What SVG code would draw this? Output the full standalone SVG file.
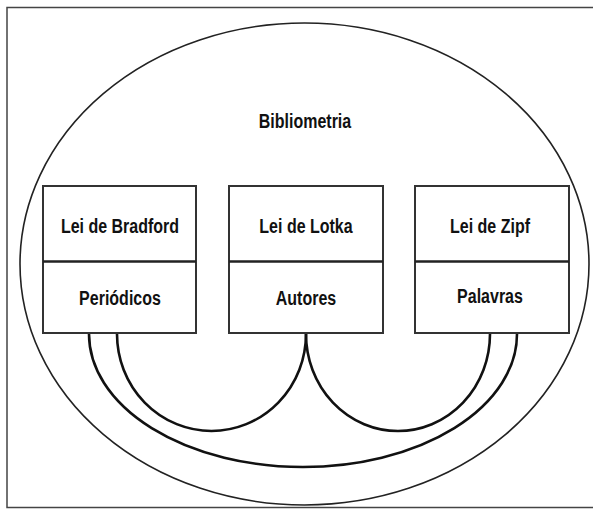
<svg xmlns="http://www.w3.org/2000/svg" width="593" height="510" viewBox="0 0 593 510">
<style>
.box{fill:#fff;stroke:#333;stroke-width:2}
.div{stroke:#222;stroke-width:2.5}
.arc{fill:none;stroke:#111;stroke-width:2.6}
.t{font-family:"Liberation Sans",Arial,sans-serif;font-weight:bold;font-size:16px;fill:#111;text-anchor:middle}
</style>
<rect x="0" y="0" width="593" height="510" fill="#fff"/>
<rect x="7" y="7.5" width="600" height="500" fill="none" stroke="#444" stroke-width="1.5"/>
<g id="bibliometria">
<ellipse cx="304.5" cy="264" rx="284.5" ry="241" fill="none" stroke="#222" stroke-width="1.6"/>
<text class="t" transform="translate(305,128) scale(1,1.3)">Bibliometria</text>
</g>
<g id="connectors">
<path class="arc" d="M89,334 A214,133 0 0 0 517,334"/>
<path class="arc" d="M117,334 A94.5,97 0 0 0 306,334"/>
<path class="arc" d="M306,334 A92,97 0 0 0 490,334"/>
</g>
<g id="bradford">
<rect class="box" x="43" y="186" width="153" height="147"/>
<line class="div" x1="43" y1="261.5" x2="196" y2="261.5"/>
<text class="t" transform="translate(120,233) scale(1,1.3)">Lei de Bradford</text>
<text class="t" transform="translate(120,305) scale(1,1.3)">Periódicos</text>
</g>
<g id="lotka">
<rect class="box" x="229" y="186" width="154" height="147"/>
<line class="div" x1="229" y1="261.5" x2="383" y2="261.5"/>
<text class="t" transform="translate(306,233) scale(1,1.3)">Lei de Lotka</text>
<text class="t" transform="translate(306,305) scale(1,1.3)">Autores</text>
</g>
<g id="zipf">
<rect class="box" x="415" y="186" width="154" height="147"/>
<line class="div" x1="415" y1="261.5" x2="569" y2="261.5"/>
<text class="t" transform="translate(490,233) scale(1,1.3)">Lei de Zipf</text>
<text class="t" transform="translate(490,303) scale(1,1.3)">Palavras</text>
</g>
</svg>
